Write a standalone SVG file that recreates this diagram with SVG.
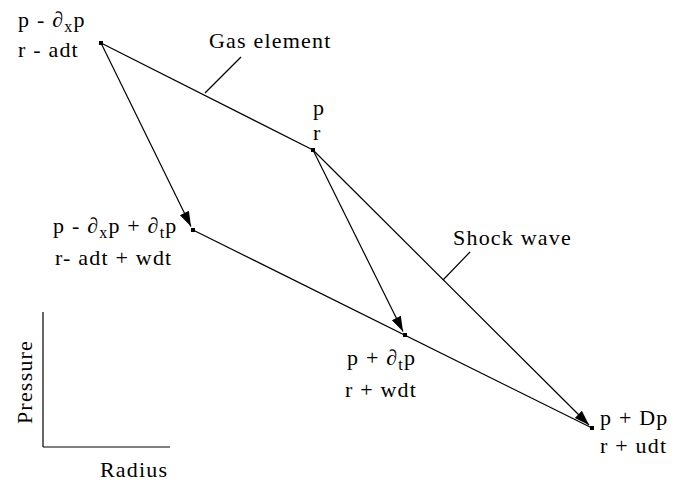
<svg xmlns="http://www.w3.org/2000/svg" width="674" height="484" viewBox="0 0 674 484">
<defs>
<style>
.t{font-family:'Liberation Serif','Times New Roman',serif;font-size:22px;fill:#000;letter-spacing:1.2px}
.sub{font-size:16px}
.ln{stroke:#000;stroke-width:1.2;fill:none}
.dot{fill:#000}
</style>
<marker id="ah" markerUnits="userSpaceOnUse" markerWidth="16" markerHeight="12" viewBox="0 0 16 12" refX="15" refY="6" orient="auto">
<path d="M0,1 L15,6 L0,11 Z" fill="#000"/>
</marker>
</defs>
<rect width="674" height="484" fill="#fff"/>
<g id="connectors">
<line class="ln" x1="101" y1="43" x2="313" y2="150"/>
<line class="ln" x1="193" y1="230" x2="592" y2="428"/>
<line class="ln" x1="101" y1="43" x2="191" y2="226.5" marker-end="url(#ah)"/>
<line class="ln" x1="313" y1="150" x2="403" y2="331.5" marker-end="url(#ah)"/>
<line class="ln" x1="313" y1="150" x2="589" y2="425" marker-end="url(#ah)"/>
<line class="ln" x1="205" y1="93" x2="241" y2="57"/>
<line class="ln" x1="443" y1="280" x2="470" y2="252"/>
</g>
<g id="node-a">
<rect class="dot" x="99" y="41" width="4" height="4"/>
<text class="t" x="18" y="27">p - ∂<tspan class="sub" dy="5">x</tspan><tspan dy="-5">p</tspan></text>
<text class="t" x="18" y="57">r - adt</text>
</g>
<g id="node-b">
<rect class="dot" x="311" y="148" width="4" height="4"/>
<text class="t" x="313" y="115">p</text>
<text class="t" x="313" y="140">r</text>
</g>
<g id="node-c">
<rect class="dot" x="191" y="228" width="4" height="4"/>
<text class="t" x="53" y="233">p - ∂<tspan class="sub" dy="5">x</tspan><tspan dy="-5">p + ∂</tspan><tspan class="sub" dy="5">t</tspan><tspan dy="-5">p</tspan></text>
<text class="t" x="55" y="265">r- adt + wdt</text>
</g>
<g id="node-d">
<rect class="dot" x="403" y="333" width="4" height="4"/>
<text class="t" x="347" y="365">p + ∂<tspan class="sub" dy="5">t</tspan><tspan dy="-5">p</tspan></text>
<text class="t" x="345" y="397">r + wdt</text>
</g>
<g id="node-e">
<rect class="dot" x="590" y="426" width="4" height="4"/>
<text class="t" x="600" y="425">p + Dp</text>
<text class="t" x="600" y="453">r + udt</text>
</g>
<g id="label-gas">
<text class="t" x="209" y="48">Gas element</text>
</g>
<g id="label-shock">
<text class="t" x="453" y="245">Shock wave</text>
</g>
<g id="axes">
<line class="ln" x1="43" y1="312" x2="43" y2="447"/>
<line class="ln" x1="43" y1="447" x2="170" y2="447"/>
<text class="t" transform="translate(32,382) rotate(-90)" text-anchor="middle">Pressure</text>
<text class="t" x="100" y="477">Radius</text>
</g>
</svg>
